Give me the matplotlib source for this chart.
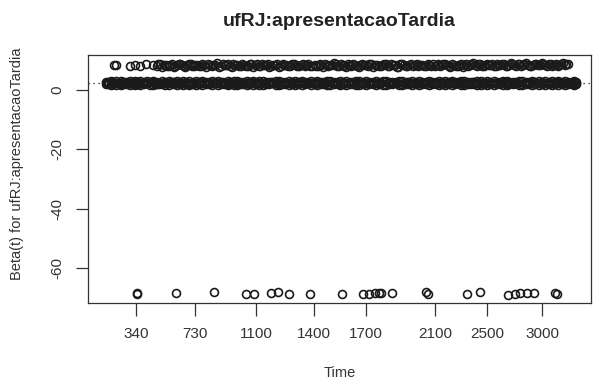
import numpy as np
import matplotlib
matplotlib.use("Agg")
import matplotlib.pyplot as plt

plt.rcParams['font.family'] = ['Liberation Sans', 'DejaVu Sans']

# scaled Schoenfeld residuals for ufRJ:apresentacaoTardia
coef = 2.35

# main band: event times with residual rows
t_main = [140, 152, 171, 188, 204, 226, 243, 262, 279, 301, 318, 335,
          352, 369, 394, 411, 433, 452, 470, 494, 512, 531, 555, 571, 593, 611, 634, 652, 672, 693, 714,
          736, 757, 774, 795, 812, 833, 850, 871, 889, 908, 929, 945, 966, 983, 1004, 1022, 1043, 1060, 1082,
          1101, 1117, 1136, 1151, 1169, 1184, 1203, 1218, 1236, 1251, 1270, 1285, 1303, 1318, 1336, 1352, 1369, 1386,
          1403, 1420, 1441, 1458, 1477, 1494, 1514, 1531, 1551, 1568, 1587, 1605, 1624, 1643, 1661, 1681,
          1702, 1719, 1740, 1757, 1778, 1797, 1815, 1836, 1853, 1874, 1893, 1911, 1932, 1950, 1969, 1988, 2008, 2027, 2046, 2064, 2085,
          2104, 2127, 2153, 2176, 2203, 2227, 2252, 2276, 2303, 2326, 2352, 2377, 2401, 2426, 2452, 2476,
          2503, 2531, 2561, 2588, 2619, 2647, 2678, 2704, 2735, 2762, 2792, 2821, 2850, 2878, 2909, 2937, 2968,
          3001, 3029, 3061, 3088, 3121, 3149, 3181, 3208, 3239, 3268, 3292, 3310]
y_low = [1.9, 2.1, 1.7, 2.0, 1.8, 2.2, 1.6, 1.9, 2.0, 1.7, 2.1, 1.8,
         2.0, 1.7, 1.9, 2.2, 1.8, 1.6, 2.0, 1.9, 2.1, 1.7, 1.8, 2.2, 1.9, 1.6, 2.0, 1.8, 2.1, 1.7, 1.9,
         1.8, 2.1, 1.7, 1.9, 2.0, 1.6, 2.2, 1.8, 1.9, 2.1, 1.7, 2.0, 1.8, 1.6, 2.1, 1.9, 1.7, 2.0, 1.8,
         2.1, 1.8, 1.6, 2.0, 1.9, 2.2, 1.7, 1.8, 2.0, 1.9, 1.6, 2.1, 1.8, 2.0, 1.7, 1.9, 2.2, 1.8,
         1.9, 1.7, 2.0, 2.1, 1.8, 1.6, 1.9, 2.2, 1.8, 2.0, 1.7, 1.9, 2.1, 1.8, 1.6, 2.0,
         1.8, 2.0, 1.9, 1.7, 2.1, 1.8, 1.6, 2.0, 1.9, 2.2, 1.7, 1.8, 2.0, 1.9, 1.6, 2.1, 1.8, 1.9, 2.0, 1.7, 2.1,
         1.9, 1.7, 2.1, 1.8, 2.0, 1.6, 1.9, 2.2, 1.8, 1.7, 2.0, 1.9, 2.1, 1.8, 1.6, 2.0,
         1.8, 2.0, 1.7, 1.9, 2.1, 1.8, 1.6, 2.0, 1.9, 2.2, 1.7, 1.8, 2.0, 1.9, 1.7, 2.1, 1.8,
         2.0, 1.8, 1.9, 1.7, 2.1, 1.8, 2.0, 1.6, 1.9, 2.1, 1.8, 2.0]
y_high = [2.8, 2.6, 3.0, 2.7, 2.9, 2.5, 3.1, 2.8, 2.6, 2.9, 2.7, 3.0,
          2.7, 2.9, 2.6, 3.0, 2.8, 3.1, 2.7, 2.5, 2.9, 2.8, 3.0, 2.6, 2.7, 3.1, 2.8, 2.9, 2.6, 3.0, 2.7,
          2.9, 2.6, 3.0, 2.8, 2.7, 3.1, 2.6, 2.9, 2.8, 2.5, 3.0, 2.7, 2.9, 3.1, 2.6, 2.8, 3.0, 2.7, 2.9,
          2.6, 2.9, 3.1, 2.7, 2.8, 2.6, 3.0, 2.9, 2.7, 2.8, 3.1, 2.6, 2.9, 2.7, 3.0, 2.8, 2.6, 2.9,
          2.8, 3.0, 2.7, 2.6, 2.9, 3.1, 2.8, 2.6, 2.9, 2.7, 3.0, 2.8, 2.6, 2.9, 3.1, 2.7,
          2.9, 2.7, 2.8, 3.0, 2.6, 2.9, 3.1, 2.7, 2.8, 2.6, 3.0, 2.9, 2.7, 2.8, 3.1, 2.6, 2.9, 2.8, 2.7, 3.0, 2.6,
          2.8, 3.0, 2.6, 2.9, 2.7, 3.1, 2.8, 2.6, 2.9, 3.0, 2.7, 2.8, 2.6, 2.9, 3.1, 2.7,
          2.9, 2.7, 3.0, 2.8, 2.6, 2.9, 3.1, 2.7, 2.8, 2.6, 3.0, 2.9, 2.7, 2.8, 3.0, 2.6, 2.9,
          2.7, 2.9, 2.8, 3.0, 2.6, 2.9, 2.7, 3.1, 2.8, 2.6, 2.9, 2.7]

t_mid = [146, 162, 180, 196, 215, 235, 252, 270, 290, 310, 327, 344,
         361, 382, 402, 422, 443, 461, 482, 503, 521, 543, 563, 582, 602, 623, 643, 662, 683, 704, 725,
         746, 766, 785, 803, 822, 841, 861, 880, 898, 918, 937, 955, 975, 993, 1013, 1032, 1051, 1071, 1091,
         1109, 1126, 1144, 1160, 1176, 1194, 1210, 1227, 1244, 1261, 1278, 1294, 1310, 1327, 1344, 1361, 1378, 1394,
         1412, 1431, 1449, 1467, 1486, 1504, 1522, 1541, 1559, 1578, 1596, 1615, 1633, 1652, 1671, 1691,
         1710, 1730, 1748, 1767, 1787, 1806, 1825, 1844, 1863, 1883, 1902, 1921, 1941, 1959, 1978, 1998, 2017, 2036, 2055, 2074, 2094,
         2115, 2140, 2164, 2190, 2215, 2240, 2264, 2290, 2314, 2339, 2364, 2389, 2413, 2439, 2464, 2489,
         2517, 2546, 2575, 2603, 2633, 2662, 2691, 2719, 2748, 2777, 2806, 2835, 2864, 2893, 2923, 2952, 2984,
         3015, 3045, 3074, 3104, 3135, 3165, 3194, 3223, 3253, 3276, 3296, 3306]
y_mid = [2.4, 2.2, 2.5, 2.3, 2.4, 2.1, 2.6, 2.3, 2.2, 2.5, 2.4, 2.3,
         2.3, 2.5, 2.2, 2.4, 2.6, 2.3, 2.1, 2.4, 2.5, 2.2, 2.3, 2.6, 2.4, 2.2, 2.5, 2.3, 2.4, 2.1, 2.5,
         2.2, 2.4, 2.6, 2.3, 2.5, 2.2, 2.4, 2.3, 2.6, 2.1, 2.4, 2.5, 2.3, 2.2, 2.5, 2.4, 2.3, 2.6, 2.2,
         2.5, 2.3, 2.4, 2.2, 2.6, 2.3, 2.5, 2.1, 2.4, 2.3, 2.5, 2.2, 2.4, 2.6, 2.3, 2.4, 2.2, 2.5,
         2.3, 2.5, 2.2, 2.4, 2.6, 2.3, 2.4, 2.1, 2.5, 2.3, 2.4, 2.2, 2.6, 2.4, 2.3, 2.5,
         2.4, 2.2, 2.5, 2.3, 2.4, 2.6, 2.2, 2.3, 2.5, 2.4, 2.1, 2.3, 2.6, 2.4, 2.2, 2.5, 2.3, 2.4, 2.6, 2.2, 2.4,
         2.3, 2.5, 2.4, 2.2, 2.6, 2.3, 2.4, 2.5, 2.2, 2.4, 2.3, 2.6, 2.2, 2.4, 2.5, 2.3,
         2.4, 2.2, 2.5, 2.3, 2.6, 2.4, 2.2, 2.5, 2.3, 2.4, 2.1, 2.5, 2.3, 2.4, 2.6, 2.2, 2.4,
         2.3, 2.5, 2.4, 2.2, 2.6, 2.3, 2.4, 2.5, 2.2, 2.4, 2.3, 2.5]

# upper band
t_up = [196, 204, 300, 334, 368, 408, 452, 478, 499, 523, 547, 566, 590, 611, 634, 655, 679, 703, 722,
        741, 766, 785, 809, 831, 852, 876, 898, 919, 941, 963, 986, 1007, 1029, 1050, 1072, 1091,
        1113, 1131, 1152, 1168, 1190, 1208, 1229, 1246, 1266, 1284, 1305, 1321, 1343, 1360, 1381,
        1404, 1425, 1442, 1466, 1483, 1506, 1524, 1546, 1565, 1584, 1607, 1626, 1648, 1667, 1688,
        1711, 1730, 1754, 1773, 1795, 1816, 1836, 1858, 1877, 1899, 1921, 1940, 1962, 1983, 2003, 2026, 2046, 2067, 2089,
        2112, 2139, 2164, 2193, 2218, 2246, 2273, 2298, 2326, 2353, 2379, 2407, 2433, 2460, 2487,
        2514, 2544, 2577, 2606, 2638, 2668, 2700, 2731, 2762, 2792, 2826, 2855, 2887, 2918, 2949, 2981,
        3012, 3044, 3078, 3110, 3141, 3175, 3206, 3236]
y_up = [8.3, 8.5, 8.2, 8.4, 8.1, 8.6, 8.3, 8.0, 8.7, 8.4, 8.2, 8.5, 7.9, 8.3, 8.6, 8.1, 8.4, 8.8, 8.2,
        8.5, 8.0, 8.3, 8.7, 8.2, 8.4, 7.8, 8.6, 8.3, 8.1, 8.9, 8.4, 8.0, 8.5, 8.2, 8.7, 8.3,
        8.1, 8.6, 8.3, 7.9, 8.5, 8.8, 8.2, 8.4, 8.0, 8.6, 8.3, 8.1, 8.7, 8.4, 8.2,
        8.5, 8.1, 8.3, 8.8, 8.0, 8.4, 8.6, 8.2, 8.3, 7.9, 8.5, 8.7, 8.1, 8.4, 8.3,
        8.2, 8.6, 8.3, 8.0, 8.5, 8.8, 8.1, 8.4, 7.9, 8.6, 8.3, 8.2, 8.7, 8.4, 8.1, 8.5, 8.0, 8.3, 8.6,
        8.4, 8.1, 8.7, 8.3, 7.9, 8.5, 8.2, 8.8, 8.4, 8.0, 8.6, 8.3, 8.9, 8.1, 8.5,
        8.3, 8.7, 8.1, 8.5, 8.9, 8.2, 8.4, 8.8, 8.0, 8.6, 8.3, 9.0, 8.2, 8.5, 8.7, 8.3,
        8.6, 8.2, 8.8, 8.4, 8.1, 8.7, 8.5, 8.8]

t_up2 = [488, 511, 535, 556, 578, 600, 622, 645, 667, 691, 712, 732,
         752, 775, 797, 820, 842, 864, 887, 909, 930, 952, 975, 997, 1018, 1040, 1061, 1082,
         1104, 1122, 1142, 1160, 1180, 1199, 1218, 1238, 1256, 1275, 1294, 1313, 1332, 1351, 1370, 1392,
         1414, 1434, 1454, 1474, 1494, 1515, 1535, 1555, 1575, 1596, 1616, 1637, 1657, 1678, 1698,
         1720, 1742, 1763, 1784, 1806, 1826, 1847, 1867, 1888, 1910, 1930, 1951, 1972, 1993, 2014, 2036, 2057, 2078,
         2100, 2125, 2151, 2178, 2205, 2232, 2260, 2286, 2312, 2340, 2366, 2393, 2420, 2446, 2474, 2500,
         2529, 2560, 2591, 2622, 2653, 2684, 2715, 2746, 2777, 2809, 2840, 2871, 2902, 2933, 2965, 2996,
         3028, 3061, 3094, 3126, 3158, 3190, 3221]
y_up2 = [8.8, 7.9, 8.5, 8.2, 8.9, 8.0, 8.6, 8.3, 7.8, 8.7, 8.1, 8.4,
         8.2, 8.8, 7.9, 8.5, 8.3, 9.0, 8.0, 8.4, 8.7, 7.9, 8.5, 8.2, 8.8, 8.1, 8.6, 7.9,
         8.7, 8.0, 8.4, 8.9, 8.2, 8.5, 7.9, 8.7, 8.3, 8.1, 8.8, 8.0, 8.5, 8.2, 8.9, 8.1,
         8.2, 8.8, 7.9, 8.5, 8.3, 9.0, 8.0, 8.6, 8.2, 8.8, 8.1, 8.4, 7.9, 8.7, 8.5,
         8.7, 7.9, 8.5, 8.2, 8.9, 8.1, 8.6, 8.3, 7.9, 8.8, 8.2, 8.5, 8.0, 8.9, 8.3, 8.1, 8.7, 8.2,
         8.0, 8.8, 8.3, 8.6, 8.1, 8.9, 8.2, 8.5, 7.9, 8.7, 8.4, 9.0, 8.2, 8.6, 8.0, 8.8,
         8.5, 8.1, 8.9, 8.3, 8.7, 8.0, 9.1, 8.4, 8.6, 8.2, 8.9, 8.5, 8.1, 8.8, 8.4, 9.0,
         8.3, 8.9, 8.2, 8.7, 8.5, 9.0, 8.6]

# lower group
t_low = [345, 349, 604, 845, 1039, 1088, 1178, 1214, 1271, 1379,
         1562, 1683, 1717, 1752, 1775, 1787, 1851, 2045, 2060, 2346,
         2446, 2691, 2755, 2800, 2864, 2927, 3120, 3135]
y_low_grp = [-68.6, -68.3, -68.5, -68.0, -68.7, -68.7, -68.5, -68.1, -68.8, -68.8,
             -68.6, -68.7, -68.7, -68.5, -68.3, -68.4, -68.5, -68.2, -68.6, -68.6,
             -68.2, -69.0, -68.6, -68.5, -68.3, -68.3, -68.3, -68.7]

x_ticks = [340, 730, 1100, 1400, 1700, 2100, 2500, 3000]
y_ticks = [0, -20, -40, -60]

# km-style time transform for the x axis
knot_t = [0, 340, 730, 1100, 1400, 1700, 2100, 2500, 3000, 3500]
knot_u = [85, 136, 195, 256, 314, 366, 435, 487, 542, 597]


def fwd(t):
    return np.interp(t, knot_t, knot_u)


def inv(u):
    return np.interp(u, knot_u, knot_t)


fig = plt.figure(figsize=(5.97, 3.87), dpi=100)
ax = fig.add_axes([88 / 597, 1 - 303 / 387, (591 - 88) / 597, (303 - 55) / 387])
ax.set_xscale('function', functions=(fwd, inv))

pt = dict(marker='o', ls='none', ms=5.7, mfc='none', mec='#1a1a1a', mew=1.2)
ax.plot(t_main, y_low, **pt)
ax.plot(t_mid, y_mid, **pt)
ax.plot(t_main, y_high, **pt)
ax.plot(t_up, y_up, **pt)
ax.plot(t_up2, y_up2, **pt)
ax.plot(t_low, y_low_grp, **pt)
ax.axhline(coef, color='#1a1a1a', lw=0.9, ls=(0, (1, 3)))

ax.set_xlim(20, 3445)
ax.set_ylim(-71.8, 11.8)
ax.set_xticks(x_ticks)
ax.set_xticklabels([str(v) for v in x_ticks])
ax.set_yticks(y_ticks)
ax.set_yticklabels([str(v) for v in y_ticks], rotation=90, va='center')
ax.minorticks_off()
ax.tick_params(axis='both', length=9, width=0.9, color='#333333', labelsize=11,
               labelcolor='#333333', pad=8)
for s in ax.spines.values():
    s.set_color('#333333')
    s.set_linewidth(0.9)

ax.set_title('ufRJ:apresentacaoTardia', fontsize=14, fontweight='bold', color='#222222', pad=21)
ax.set_xlabel('Time', fontsize=10.5, color='#333333', labelpad=18)
ax.set_ylabel('Beta(t) for ufRJ:apresentacaoTardia', fontsize=10.5, color='#333333')
ax.yaxis.set_label_coords(-0.128, 0.56)

fig.savefig('out.png', dpi=100, facecolor='white')
